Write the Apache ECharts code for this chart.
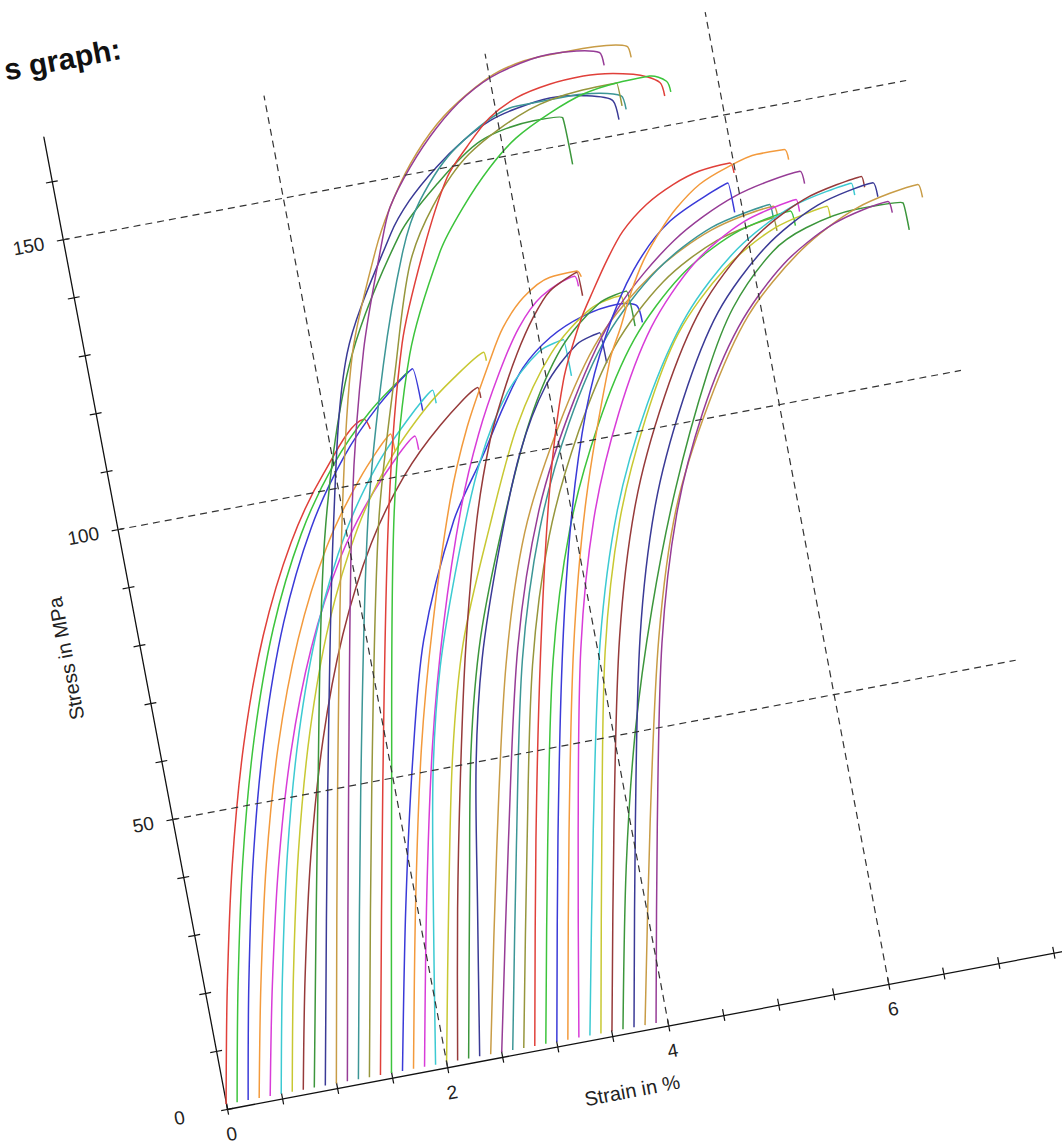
<!DOCTYPE html>
<html><head><meta charset="utf-8">
<script src="https://cdn.jsdelivr.net/npm/echarts@6/dist/echarts.min.js"></script>
<style>
html,body{margin:0;padding:0;width:1062px;height:1144px;overflow:hidden;background:#fff;}
#wrap{position:absolute;left:76.5px;top:-30.5px;width:1128px;height:1259px;transform-origin:150px 1139px;transform:rotate(-10.7deg);}
#chart{width:1128px;height:1259px;}
</style></head><body>
<div id="wrap"><div id="chart"></div></div>
<script>
const xTicks=[0,0.5,1,1.5,2,2.5,3,3.5,4,4.5,5,5.5,6,6.5,7,7.5];
const xLabels=[0,2,4,6];
const yTicks=[0,10,20,30,40,50,60,70,80,90,100,110,120,130,140,150,160];
const yLabels=[0,50,100,150];
const gridX=[2,4,6];
const gridY=[50,100,150];
const palette=['#e0403a','#3cc43c','#3a3ad8','#f39a3c','#d83cd8','#3ccad2','#c8c832','#963a3a','#3c963c','#3a3a96','#c89c46','#963c96','#3c9696','#96963c'];

const c00=[[0,0.8],[0.2,19.9],[0.45,40.5],[0.75,60.2],[1.1,77.7],[1.5,92.4],[1.9,102.9],[2.34,110.6],[2.38,108.8]];
const c01=[[0.1,0.8],[0.3,20.1],[0.55,40.9],[0.85,60.8],[1.2,78.6],[1.6,93.4],[2.0,104],[2.4,111.6],[2.81,117.2]];
const c02=[[0.2,0.8],[0.4,20.3],[0.65,41.3],[0.95,61.3],[1.3,79.2],[1.7,94.2],[2.1,104.9],[2.5,112.6],[2.85,117.5],[2.87,110.2]];
const c03=[[0.3,0.8],[0.5,19.4],[0.75,39.6],[1.05,58.9],[1.4,76],[1.8,90.4],[2.2,100.7],[2.55,107.3],[2.56,104.4]];
const c04=[[0.4,0.8],[0.6,19],[0.85,38.6],[1.15,57.4],[1.5,74.1],[1.9,88.1],[2.3,98.1],[2.76,106.2],[2.77,103.8]];
const c05=[[0.5,0.8],[0.7,19.9],[0.95,40.5],[1.25,60.2],[1.6,77.8],[2.0,92.5],[2.4,103],[2.8,110.5],[2.99,113.3],[3.0,111]];
const c06=[[0.6,0.8],[0.8,19.9],[1.05,40.5],[1.35,60.2],[1.7,77.8],[2.1,92.5],[2.5,103],[2.9,110.5],[3.2,114.7],[3.5,118],[3.51,116.5]];
const c07=[[0.7,0.8],[0.9,19.3],[1.15,39.3],[1.45,58.4],[1.8,75.4],[2.2,89.7],[2.6,99.9],[3.0,107.2],[3.39,112.3],[3.4,110.5]];
const c08=[[0.8,0.8],[1.3,48],[1.8,92],[2.3,120],[2.96,140.3],[3.37,147.5],[3.82,153.3],[4.32,155],[4.58,154.6],[4.59,146.5]];
const c09=[[0.9,0.8],[1.4,49],[1.9,94],[2.3,122],[2.88,140.6],[3.1,145.6],[3.39,150.3],[3.67,153.9],[3.94,156.4],[4.19,157.6],[4.5,158.3],[4.8,157.6],[5.05,155.8],[5.07,152.5]];
const c10=[[1.0,0.8],[1.5,50],[2.0,96],[2.35,122],[2.72,138.3],[2.92,145.1],[3.17,151.7],[3.47,157.5],[3.78,161.5],[4.11,164.4],[4.51,165.5],[4.87,165.5],[5.26,164.5],[5.28,162.5]];
const c11=[[1.1,0.8],[1.6,50],[2.1,97],[2.45,122],[2.79,139.5],[2.92,145.1],[3.16,151.1],[3.46,156.9],[3.77,161.3],[4.1,164.1],[4.57,165.6],[5.01,164.3],[5.03,162]];
const c12=[[1.2,0.8],[1.7,49],[2.2,93],[2.6,119],[2.96,137.4],[3.19,145.2],[3.6,153],[4.2,158],[4.7,158],[5.13,156.4],[5.15,154]];
const c13=[[1.3,0.8],[1.8,49],[2.3,93],[2.7,118],[3.0,135],[3.3,144],[3.7,151.5],[4.3,157],[4.8,158.6],[5.11,158.7],[5.12,154.7]];
const c14=[[1.4,0.8],[1.9,49],[2.4,94],[2.8,122],[3.14,136.8],[3.47,148.3],[3.69,152.7],[3.94,156.9],[4.21,159.4],[4.52,160.6],[4.83,160.9],[5.27,159.6],[5.49,157.4],[5.51,155]];
const c15=[[1.5,0.8],[1.95,46],[2.45,94],[2.85,120],[3.29,136.3],[3.56,142.8],[3.86,148.6],[4.14,152.7],[4.48,155.8],[4.8,157.9],[5.11,158.7],[5.41,158.8],[5.55,157.4],[5.57,155.5]];
const c16=[[1.6,0.8],[1.9,28],[2.2,52],[2.5,72],[2.96,90.9],[3.33,101],[3.58,108.2],[3.82,114.2],[4.11,118.4],[4.43,120.9],[4.75,121.8],[4.92,120.9],[4.94,118]];
const c17=[[1.7,0.8],[2.0,29],[2.3,54],[2.6,74],[2.96,94.3],[3.23,106],[3.54,116.4],[3.71,121.5],[3.94,125.9],[4.2,128.4],[4.45,128.6],[4.48,127.5]];
const c18=[[1.8,0.8],[2.1,29],[2.4,54],[2.7,74],[3.05,93],[3.32,104.5],[3.6,114],[3.85,121],[4.1,125.5],[4.42,127.8],[4.44,126]];
const c19=[[1.9,0.8],[2.13,25.9],[2.36,49.4],[2.6,67],[2.94,84.7],[3.29,100],[3.64,110.5],[3.99,116.4],[4.22,117.6],[4.23,111.3]];
const c20=[[2.0,0.8],[2.28,27.1],[2.56,51.7],[2.84,70.2],[3.26,88.6],[3.67,104.6],[4.09,115.7],[4.51,121.9],[4.79,123.1],[4.81,121]];
const c21=[[2.1,0.8],[2.35,26],[2.6,48.5],[2.85,69],[3.16,90.1],[3.41,103.1],[3.6,110.4],[3.79,116.7],[3.99,122.2],[4.18,126.1],[4.45,128.4],[4.46,124.3]];
const c22=[[2.2,0.8],[2.47,27.2],[2.73,52],[3.0,70.5],[3.39,89],[3.79,105.1],[4.19,116.3],[4.59,122.5],[4.85,123.7],[4.87,117.6]];
const c23=[[2.3,0.8],[2.53,25.9],[2.75,49.4],[2.98,67],[3.31,84.7],[3.65,100],[3.99,110.5],[4.33,116.4],[4.55,117.6],[4.56,112.3]];
const c24=[[2.4,0.8],[2.79,34.6],[3.18,65.3],[3.56,86.6],[4.03,103.2],[4.53,116.6],[5.12,125.9],[5.7,131.2],[6.28,133.2],[6.3,131.5]];
const c25=[[2.5,0.8],[2.91,35.9],[3.31,67.7],[3.72,89.8],[4.21,107.1],[4.74,120.9],[5.35,130.6],[5.96,136.1],[6.57,138.2],[6.59,136]];
const c26=[[2.6,0.8],[2.97,34.7],[3.33,65.5],[3.7,86.8],[4.13,103.5],[4.61,116.9],[5.16,126.3],[5.7,131.6],[6.25,133.6],[6.26,131.5]];
const c27=[[2.7,0.8],[3.06,34.1],[3.41,64.3],[3.77,85.3],[4.2,101.8],[4.66,114.9],[5.19,124.1],[5.73,129.3],[6.26,131.3],[6.27,129]];
const c28=[[2.8,0.8],[3.15,35],[3.5,66],[3.85,93],[4.15,110.7],[4.4,120.2],[4.56,124.8],[4.73,129.4],[4.92,133.8],[5.17,137.5],[5.44,140],[5.69,141.4],[5.97,141.8],[5.99,140]];
const c29=[[2.9,0.8],[3.25,34.3],[3.6,64.6],[3.96,85.7],[4.38,102.2],[4.84,115.4],[5.36,124.6],[5.89,129.9],[6.42,131.9],[6.44,129.3]];
const c30=[[3.0,0.8],[3.35,35],[3.7,66],[4.0,88],[4.3,105],[4.6,117],[4.95,127],[5.35,134],[5.92,138.5],[5.93,133.4]];
const c31=[[3.1,0.8],[3.45,35],[3.8,66],[4.15,90],[4.59,112.6],[4.74,117.8],[4.88,123],[5.05,128.2],[5.25,132.7],[5.43,136],[5.67,139.2],[5.93,141.1],[6.22,142.4],[6.47,142.3],[6.49,140.5]];
const c32=[[3.2,0.8],[3.53,34.7],[3.86,65.5],[4.19,86.8],[4.58,103.5],[5.01,116.9],[5.5,126.3],[6.0,131.6],[6.49,133.6],[6.5,131.5]];
const c33=[[3.3,0.8],[3.67,35],[4.04,66],[4.41,87.5],[4.85,104.3],[5.34,117.8],[5.89,127.2],[6.45,132.6],[7.0,134.6],[7.01,132.5]];
const c34=[[3.4,0.8],[3.74,34.2],[4.07,64.4],[4.41,85.5],[4.81,101.9],[5.24,115.1],[5.75,124.3],[6.25,129.5],[6.75,131.5],[6.76,129.5]];
const c35=[[3.5,0.8],[3.86,35.2],[4.22,66.3],[4.58,88],[5.01,104.9],[5.48,118.5],[6.02,128],[6.56,133.4],[7.1,135.4],[7.11,133.5]];
const c36=[[3.6,0.8],[3.9,28],[4.2,50],[4.55,70],[4.95,89],[5.42,107.3],[5.76,117.6],[6.2,125.7],[6.53,128.6],[7.0,130.1],[7.42,129.7],[7.43,125]];
const c37=[[3.7,0.8],[4.05,34.8],[4.4,65.7],[4.75,87.1],[5.17,103.9],[5.62,117.3],[6.14,126.6],[6.67,132],[7.19,134],[7.21,131.5]];
const c38=[[3.8,0.8],[4.18,34.4],[4.56,64.8],[4.93,86],[5.39,102.5],[5.88,115.8],[6.45,125],[7.01,130.3],[7.58,132.3],[7.6,130]];
const c39=[[3.9,0.8],[4.24,33.9],[4.58,63.9],[4.92,84.8],[5.32,101.1],[5.77,114.1],[6.27,123.2],[6.78,128.4],[7.29,130.4],[7.31,128.4]];

const curves=[c00,c01,c02,c03,c04,c05,c06,c07,c08,c09,c10,c11,c12,c13,c14,c15,c16,c17,c18,c19,c20,c21,c22,c23,c24,c25,c26,c27,c28,c29,c30,c31,c32,c33,c34,c35,c36,c37,c38,c39];

const FONT='Liberation Sans, Arial, sans-serif';
const chart=echarts.init(document.getElementById('chart'),null,{renderer:'svg',width:1128,height:1259});
const series=curves.map((d,i)=>({
  type:'line',data:d,showSymbol:false,symbol:'none',smooth:0.3,
  lineStyle:{width:1.5,color:palette[i%14]},itemStyle:{color:palette[i%14]},
  silent:true,z:3
}));
series[0].markLine={
  silent:true,symbol:['none','none'],label:{show:false},animation:false,
  lineStyle:{type:[7,5],color:'#333',width:1.2},
  data:[...gridX.map(v=>({xAxis:v})),...gridY.map(v=>({yAxis:v}))]
};
const tickStyle={color:'#111',width:1.2};
chart.setOption({
  animation:false,
  backgroundColor:'rgba(0,0,0,0)',
  title:{text:'s graph:',left:124,top:62,padding:0,
    textStyle:{fontSize:30,fontWeight:'bold',color:'#111',fontFamily:FONT}},
  grid:{left:150,top:150,width:858.3,height:988.9,containLabel:false,outerBoundsMode:'none'},
  xAxis:[{
    type:'value',min:0,max:7.65,position:'bottom',
    axisLine:{show:true,onZero:false,lineStyle:{color:'#111',width:1.3}},
    axisTick:{show:true,inside:false,length:6,customValues:xTicks,lineStyle:tickStyle},
    axisLabel:{customValues:xLabels,margin:16,fontSize:19,color:'#222',fontFamily:FONT},
    splitLine:{show:false},
    name:'Strain in %',nameLocation:'middle',nameGap:47,
    nameTextStyle:{fontSize:20,color:'#222',fontFamily:FONT,padding:[0,55,0,0]}
  },{
    type:'value',min:0,max:7.65,position:'bottom',
    axisLine:{show:false},
    axisTick:{show:true,inside:true,length:6,customValues:xTicks,lineStyle:tickStyle},
    axisLabel:{show:false},splitLine:{show:false}
  }],
  yAxis:[{
    type:'value',min:0,max:167.7,position:'left',
    axisLine:{show:true,onZero:false,lineStyle:{color:'#111',width:1.3}},
    axisTick:{show:true,inside:false,length:6,customValues:yTicks,lineStyle:tickStyle},
    axisLabel:{customValues:yLabels,margin:19,fontSize:19,color:'#222',fontFamily:FONT,
      formatter:v=>v===0?'{z|0}':String(v),
      rich:{z:{fontSize:19,color:'#222',fontFamily:FONT,padding:[0,24,0,0]}}},
    splitLine:{show:false},
    name:'Stress in MPa',nameLocation:'middle',nameGap:58,
    nameTextStyle:{fontSize:20,color:'#222',fontFamily:FONT,padding:[0,44,0,0]}
  },{
    type:'value',min:0,max:167.7,position:'left',
    axisLine:{show:false},
    axisTick:{show:true,inside:true,length:6,customValues:yTicks,lineStyle:tickStyle},
    axisLabel:{show:false},splitLine:{show:false}
  }],
  series:series
});
</script>
</body></html>
